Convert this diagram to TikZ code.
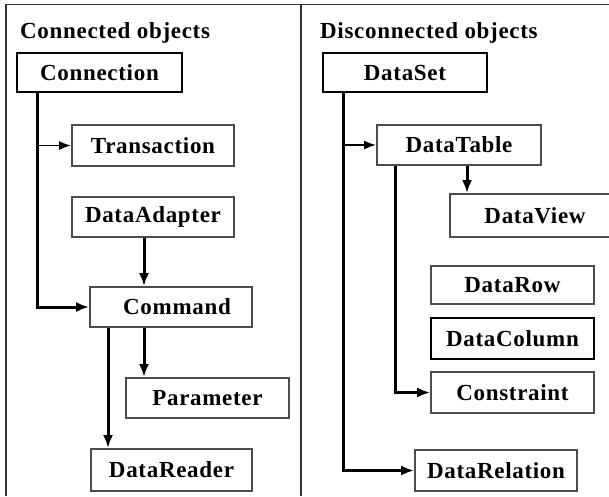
\documentclass[tikz,border=0pt]{standalone}
\usepackage{fontspec}
\setmainfont{Liberation Serif}[LetterSpace=3]
\usetikzlibrary{arrows.meta}
\begin{document}
\begin{tikzpicture}[x=1pt,y=-1pt,
  every node/.style={font=\fontsize{23}{26}\selectfont\bfseries},
  obj/.style={draw=black!70, line width=1.8pt, fill=white, inner sep=0pt},
  mainobj/.style={obj, draw=black, line width=2.6pt},
  link/.style={line width=3pt, -{Latex[length=13pt,width=10pt]}},
  thinlink/.style={line width=1.8pt, -{Latex[length=12pt,width=9pt]}},
  frame/.style={draw=black!80, line width=1.8pt}]
\clip (0,0) rectangle (609,496);
\fill[white] (0,0) rectangle (609,496);

% panel frame
\draw[frame] (6,496) -- (6,4.5) -- (609,4.5);
\draw[frame] (301,4.5) -- (301,496);

% panel titles
\node[anchor=base west, inner sep=0pt] (ttl1) at (20,38) {Connected objects};
\node[anchor=base west, inner sep=0pt] (ttl2) at (320,38) {Disconnected objects};

% connected objects
\node[mainobj, minimum width=165pt, minimum height=39pt] (conn)   at (99.5,72.5) {Connection};
\node[obj, minimum width=162pt, minimum height=41pt]     (trans)  at (153,145.5) {Transaction};
\node[obj, minimum width=162pt, minimum height=40pt]     (adapt)  at (153,217)   {DataAdapter};
\node[obj, minimum width=162pt, minimum height=40pt]     (cmd)    at (171,307)   {\hspace{12pt}Command};
\node[obj, minimum width=163pt, minimum height=40pt]     (param)  at (207.5,398) {Parameter};
\node[obj, minimum width=161pt, minimum height=42pt]     (reader) at (171.5,470) {DataReader};

% disconnected objects
\node[mainobj, minimum width=164pt, minimum height=39pt] (dset)   at (405,72.5)  {DataSet};
\node[obj, minimum width=164pt, minimum height=40pt]     (dtable) at (459,145)   {DataTable};
\node[obj, minimum width=164pt, minimum height=43pt]     (dview)  at (532,215.5) {\hspace{6pt}DataView};
\node[obj, minimum width=163pt, minimum height=38pt]     (drow)   at (512.5,285) {DataRow};
\node[mainobj, minimum width=163pt, minimum height=41pt] (dcol)   at (512.5,338.5) {DataColumn};
\node[obj, minimum width=163pt, minimum height=41pt]     (constr) at (512.5,392.5) {Constraint};
\node[obj, minimum width=162pt, minimum height=41pt]     (drel)   at (496,470.5) {DataRelation};

% connector columns
\coordinate (connbus) at (37,0);
\coordinate (adaptx)  at (144,0);
\coordinate (readerx) at (108,0);
\coordinate (dsetbus) at (343,0);
\coordinate (dtbus)   at (395,0);
\coordinate (dviewx)  at (467,0);

% connected links
\draw[link] (conn.south -| connbus) |- (cmd.west);
\draw[thinlink] (connbus |- trans.west) -- (trans.west);
\draw[link] (adapt.south -| adaptx) -- (cmd.north -| adaptx);
\draw[link] (cmd.south -| adaptx) -- (param.north -| adaptx);
\draw[link] (cmd.south -| readerx) -- (reader.north -| readerx);

% disconnected links
\draw[link] (dset.south -| dsetbus) |- (drel.west);
\draw[thinlink] (dsetbus |- dtable.west) -- (dtable.west);
\draw[link] (dtable.south -| dtbus) |- (constr.west);
\draw[link] (dtable.south -| dviewx) -- (dview.north -| dviewx);
\end{tikzpicture}
\end{document}
